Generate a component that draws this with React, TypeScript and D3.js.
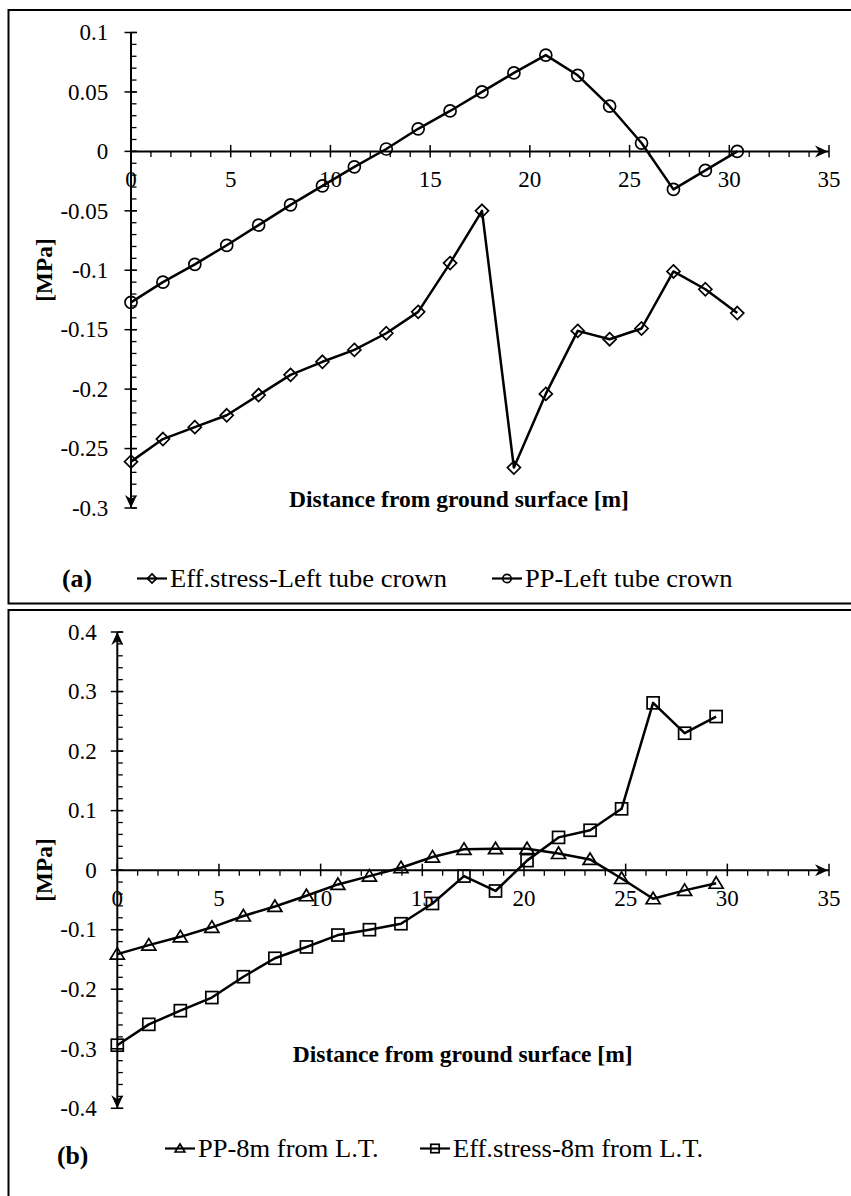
import React from 'react';
import * as d3 from 'd3';

// ---------- DATA ----------
const distA = [0, 1.6, 3.2, 4.8, 6.4, 8.0, 9.6, 11.2, 12.8, 14.4, 16.0, 17.6, 19.2, 20.8, 22.4, 24.0, 25.6, 27.2, 28.8, 30.4];
const effStressLeftCrown = [-0.261, -0.242, -0.232, -0.222, -0.205, -0.188, -0.177, -0.167, -0.153, -0.135, -0.094, -0.050, -0.266, -0.204, -0.151, -0.158, -0.149, -0.101, -0.116, -0.136];
const ppLeftCrown = [-0.127, -0.110, -0.095, -0.079, -0.062, -0.045, -0.029, -0.013, 0.002, 0.019, 0.034, 0.050, 0.066, 0.081, 0.064, 0.038, 0.007, -0.032, -0.016, 0.000];

const distB = [0, 1.55, 3.1, 4.65, 6.2, 7.75, 9.3, 10.85, 12.4, 13.95, 15.5, 17.05, 18.6, 20.15, 21.7, 23.25, 24.8, 26.35, 27.9, 29.45];
const pp8m = [-0.141, -0.126, -0.112, -0.096, -0.077, -0.061, -0.043, -0.024, -0.010, 0.004, 0.022, 0.035, 0.036, 0.036, 0.028, 0.018, -0.014, -0.048, -0.034, -0.022];
const eff8m = [-0.294, -0.259, -0.236, -0.214, -0.179, -0.148, -0.129, -0.109, -0.100, -0.090, -0.056, -0.010, -0.035, 0.016, 0.055, 0.067, 0.103, 0.281, 0.230, 0.258];

const xTicks = [0, 5, 10, 15, 20, 25, 30, 35];
const xTickLabels = ['0', '5', '10', '15', '20', '25', '30', '35'];
const yTicksA = [0.1, 0.05, 0, -0.05, -0.1, -0.15, -0.2, -0.25, -0.3];
const yTickLabelsA = ['0.1', '0.05', '0', '-0.05', '-0.1', '-0.15', '-0.2', '-0.25', '-0.3'];
const yTicksB = [0.4, 0.3, 0.2, 0.1, 0, -0.1, -0.2, -0.3, -0.4];
const yTickLabelsB = ['0.4', '0.3', '0.2', '0.1', '0', '-0.1', '-0.2', '-0.3', '-0.4'];

const xTitle = 'Distance from ground surface [m]';
const yTitle = '[MPa]';
const legendA = ['Eff.stress-Left tube crown', 'PP-Left tube crown'];
const legendB = ['PP-8m from L.T.', 'Eff.stress-8m from L.T.'];

const FONT = '"Liberation Serif", "Times New Roman", Times, serif';

type Shape = 'circle' | 'diamond' | 'triangle' | 'square';

function Marker({ shape, x, y, s = 1 }: { shape: Shape; x: number; y: number; s?: number }) {
  const common = { fill: 'none', stroke: '#000', strokeWidth: 1.7 };
  if (shape === 'circle') return <circle cx={x} cy={y} r={6 * s} {...common} />;
  if (shape === 'diamond') {
    const r = 6.5 * s;
    return <path d={`M${x},${y - r}L${x + r},${y}L${x},${y + r}L${x - r},${y}Z`} {...common} />;
  }
  if (shape === 'triangle') {
    const w = 7 * s;
    return <path d={`M${x},${y - 6.5 * s}L${x + w},${y + 5 * s}L${x - w},${y + 5 * s}Z`} {...common} />;
  }
  const h = 6 * s;
  return <rect x={x - h} y={y - h} width={2 * h} height={2 * h} {...common} />;
}

function arrow(tx: number, ty: number, dir: 'right' | 'up' | 'down') {
  const L = 13, W = 6, N = 9;
  if (dir === 'right') return `M${tx},${ty}L${tx - L},${ty - W}L${tx - N},${ty}L${tx - L},${ty + W}Z`;
  if (dir === 'down') return `M${tx},${ty}L${tx - W},${ty - L}L${tx},${ty - N}L${tx + W},${ty - L}Z`;
  return `M${tx},${ty}L${tx - W},${ty + L}L${tx},${ty + N}L${tx + W},${ty + L}Z`;
}

interface PanelProps {
  xRange: [number, number];
  yRange: [number, number];
  yDomain: [number, number];
  yTicks: number[];
  yTickLabels: string[];
  minorY: number;
  arrowUp: boolean;
  yLabelRight: number;
  titleX: number;
  titleY: number;
  mpaY: number;
  series: { x: number[]; y: number[]; shape: Shape }[];
}

function Panel(p: PanelProps) {
  const x = d3.scaleLinear().domain([0, 35]).range(p.xRange);
  const y = d3.scaleLinear().domain(p.yDomain).range(p.yRange);
  const y0 = y(0);
  const xMinor = d3.range(0, 35.001, 1).filter((v) => v % 5 !== 0);
  const nMinor = Math.round((p.yDomain[1] - p.yDomain[0]) / p.minorY);
  const yMinor = d3.range(0, nMinor + 1).map((i) => p.yDomain[0] + i * p.minorY);
  const ax = x(0);
  const line = d3.line<[number, number]>().x((d) => x(d[0])).y((d) => y(d[1]));
  return (
    <g>
      {/* y axis */}
      <line x1={ax} x2={ax} y1={y(p.yDomain[1])} y2={y(p.yDomain[0])} stroke="#000" strokeWidth={2} />
      {yMinor.map((v, i) => (
        <line key={'ym' + i} x1={ax} x2={ax + 5.5} y1={y(v)} y2={y(v)} stroke="#000" strokeWidth={1.3} />
      ))}
      {p.yTicks.map((v, i) => (
        <line key={'yt' + i} x1={ax - 6.5} x2={ax + 6} y1={y(v)} y2={y(v)} stroke="#000" strokeWidth={1.5} />
      ))}
      {p.yTicks.map((v, i) => (
        <text key={'yl' + i} x={p.yLabelRight} y={y(v) + 7.8} textAnchor="end" fontFamily={FONT} fontSize={23}>
          {p.yTickLabels[i]}
        </text>
      ))}
      <path d={arrow(ax, y(p.yDomain[0]), 'down')} fill="#000" />
      {p.arrowUp && <path d={arrow(ax, y(p.yDomain[1]), 'up')} fill="#000" />}
      {/* x axis */}
      <line x1={ax} x2={x(35)} y1={y0} y2={y0} stroke="#000" strokeWidth={2} />
      {xMinor.map((v, i) => (
        <line key={'xm' + i} x1={x(v)} x2={x(v)} y1={y0} y2={y0 + 5.5} stroke="#000" strokeWidth={1.3} />
      ))}
      {xTicks.map((v, i) => (
        <line key={'xt' + i} x1={x(v)} x2={x(v)} y1={y0 - 6.5} y2={y0 + 6} stroke="#000" strokeWidth={1.5} />
      ))}
      {xTicks.map((v, i) => (
        <text key={'xl' + i} x={x(v)} y={y0 + 36} textAnchor="middle" fontFamily={FONT} fontSize={23}>
          {xTickLabels[i]}
        </text>
      ))}
      <path d={arrow(x(35) - 1, y0, 'right')} fill="#000" />
      {/* titles */}
      <text x={p.titleX} y={p.titleY} textAnchor="middle" fontFamily={FONT} fontSize={23.5} fontWeight="bold">
        {xTitle}
      </text>
      <text transform={`translate(52,${p.mpaY}) rotate(-90)`} textAnchor="middle" fontFamily={FONT} fontSize={23.3} fontWeight="bold">
        {yTitle}
      </text>
      {/* series */}
      {p.series.map((s, si) => {
        const pts = s.x.map((d, i) => [d, s.y[i]] as [number, number]);
        return (
          <g key={'s' + si}>
            <path d={line(pts) || ''} fill="none" stroke="#000" strokeWidth={2.5} strokeLinejoin="round" />
            {pts.map((d, i) => (
              <Marker key={i} shape={s.shape} x={x(d[0])} y={y(d[1])} />
            ))}
          </g>
        );
      })}
    </g>
  );
}

function LegendItem({ x, y, shape, label }: { x: number; y: number; shape: Shape; label: string }) {
  return (
    <g>
      <line x1={x} x2={x + 30} y1={y} y2={y} stroke="#000" strokeWidth={2.2} />
      <Marker shape={shape} x={x + 15} y={y} s={0.7} />
      <text transform={`translate(${x + 33},${y + 8.5}) scale(1.04,1)`} fontFamily={FONT} fontSize={25.5}>
        {label}
      </text>
    </g>
  );
}

export default function App() {
  return (
    <svg width={851} height={1196} style={{ position: 'absolute', left: 0, top: 0, display: 'block', background: '#fff' }}>
      <rect x={0} y={0} width={851} height={1196} fill="#fff" />
      {/* frames */}
      <path d="M860,10H8.5V603.5H860" fill="none" stroke="#000" strokeWidth={2} />
      <path d="M860,610H8.5V1205" fill="none" stroke="#000" strokeWidth={2} />

      <Panel
        xRange={[131, 829]}
        yRange={[508, 32.5]}
        yDomain={[-0.3, 0.1]}
        yTicks={yTicksA}
        yTickLabels={yTickLabelsA}
        minorY={0.01}
        arrowUp={false}
        yLabelRight={108.3}
        titleX={459}
        titleY={507}
        mpaY={270}
        series={[
          { x: distA, y: ppLeftCrown, shape: 'circle' },
          { x: distA, y: effStressLeftCrown, shape: 'diamond' },
        ]}
      />
      <Panel
        xRange={[117.3, 829]}
        yRange={[1108.3, 632]}
        yDomain={[-0.4, 0.4]}
        yTicks={yTicksB}
        yTickLabels={yTickLabelsB}
        minorY={0.02}
        arrowUp={true}
        yLabelRight={96.7}
        titleX={462.7}
        titleY={1062}
        mpaY={870}
        series={[
          { x: distB, y: pp8m, shape: 'triangle' },
          { x: distB, y: eff8m, shape: 'square' },
        ]}
      />

      {/* legends */}
      <text transform="translate(62,586.5) scale(1.05,1)" fontFamily={FONT} fontSize={24.5} fontWeight="bold">(a)</text>
      <LegendItem x={137} y={578.5} shape="diamond" label={legendA[0]} />
      <LegendItem x={492} y={578.5} shape="circle" label={legendA[1]} />

      <text transform="translate(57,1164) scale(1.05,1)" fontFamily={FONT} fontSize={24.5} fontWeight="bold">(b)</text>
      <LegendItem x={165} y={1148.5} shape="triangle" label={legendB[0]} />
      <LegendItem x={420} y={1148.5} shape="square" label={legendB[1]} />
    </svg>
  );
}
